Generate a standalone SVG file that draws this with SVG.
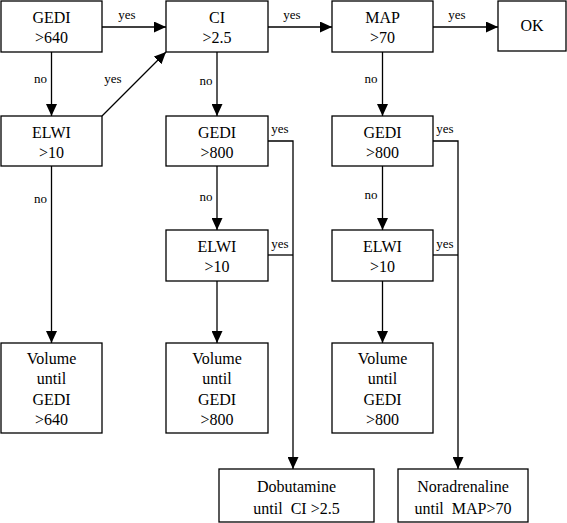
<svg xmlns="http://www.w3.org/2000/svg" width="567" height="523" viewBox="0 0 567 523">
<defs>
<style>
.box{fill:#fff;stroke:#000;stroke-width:1.3}
.t{font-family:"Liberation Serif",serif;font-size:16px;text-anchor:middle;fill:#000}
.l{font-family:"Liberation Serif",serif;font-size:13px;text-anchor:middle;fill:#000}
.c{fill:none;stroke:#000;stroke-width:1.3}
</style>
<marker id="ah" markerWidth="12" markerHeight="11" refX="12" refY="5.5" orient="auto" markerUnits="userSpaceOnUse" viewBox="0 0 12 11">
<path d="M0,0 L12,5.5 L0,11 Z" fill="#000"/>
</marker>
</defs>
<rect width="567" height="523" fill="#fff"/>
<g id="connectors">
<line class="c" x1="102" y1="27" x2="166" y2="27" marker-end="url(#ah)"/>
<line class="c" x1="268" y1="27" x2="332" y2="27" marker-end="url(#ah)"/>
<line class="c" x1="433" y1="27" x2="498" y2="27" marker-end="url(#ah)"/>
<line class="c" x1="51.5" y1="52" x2="51.5" y2="116" marker-end="url(#ah)"/>
<line class="c" x1="102" y1="116" x2="166" y2="52" marker-end="url(#ah)"/>
<line class="c" x1="217" y1="52" x2="217" y2="116" marker-end="url(#ah)"/>
<line class="c" x1="382.5" y1="52" x2="382.5" y2="116" marker-end="url(#ah)"/>
<line class="c" x1="217" y1="166" x2="217" y2="230" marker-end="url(#ah)"/>
<line class="c" x1="382.5" y1="166" x2="382.5" y2="230" marker-end="url(#ah)"/>
<line class="c" x1="51.5" y1="166" x2="51.5" y2="343" marker-end="url(#ah)"/>
<line class="c" x1="217" y1="281" x2="217" y2="343" marker-end="url(#ah)"/>
<line class="c" x1="382.5" y1="281" x2="382.5" y2="343" marker-end="url(#ah)"/>
<polyline class="c" points="268,141 293,141 293,469" marker-end="url(#ah)"/>
<polyline class="c" points="268,255 293,255"/>
<polyline class="c" points="433,141 458,141 458,469" marker-end="url(#ah)"/>
<polyline class="c" points="433,255 458,255"/>
<text class="l" x="127" y="19">yes</text>
<text class="l" x="292" y="19">yes</text>
<text class="l" x="457" y="19">yes</text>
<text class="l" x="40.5" y="83">no</text>
<text class="l" x="113" y="83">yes</text>
<text class="l" x="206" y="85">no</text>
<text class="l" x="371" y="83">no</text>
<text class="l" x="206" y="201">no</text>
<text class="l" x="371" y="199">no</text>
<text class="l" x="40.5" y="203">no</text>
<text class="l" x="280" y="133">yes</text>
<text class="l" x="445" y="133">yes</text>
<text class="l" x="280" y="248">yes</text>
<text class="l" x="445" y="248">yes</text>
</g>
<g id="n-gedi640"><rect class="box" x="1" y="1" width="101" height="51"/><text class="t" x="51.5" y="23">GEDI</text><text class="t" x="51.5" y="43">&gt;640</text></g>
<g id="n-ci"><rect class="box" x="166" y="1" width="102" height="51"/><text class="t" x="217" y="23">CI</text><text class="t" x="217" y="43">&gt;2.5</text></g>
<g id="n-map"><rect class="box" x="332" y="1" width="101" height="51"/><text class="t" x="382.5" y="23">MAP</text><text class="t" x="382.5" y="43">&gt;70</text></g>
<g id="n-ok"><rect class="box" x="498" y="1" width="68" height="50"/><text class="t" x="532" y="31">OK</text></g>
<g id="n-elwi1"><rect class="box" x="1" y="116" width="101" height="50"/><text class="t" x="51.5" y="138">ELWI</text><text class="t" x="51.5" y="158">&gt;10</text></g>
<g id="n-gedi800a"><rect class="box" x="166" y="116" width="102" height="50"/><text class="t" x="217" y="138">GEDI</text><text class="t" x="217" y="158">&gt;800</text></g>
<g id="n-gedi800b"><rect class="box" x="332" y="116" width="101" height="50"/><text class="t" x="382.5" y="138">GEDI</text><text class="t" x="382.5" y="158">&gt;800</text></g>
<g id="n-elwi2"><rect class="box" x="166" y="230" width="102" height="51"/><text class="t" x="217" y="252">ELWI</text><text class="t" x="217" y="272">&gt;10</text></g>
<g id="n-elwi3"><rect class="box" x="332" y="230" width="101" height="51"/><text class="t" x="382.5" y="252">ELWI</text><text class="t" x="382.5" y="272">&gt;10</text></g>
<g id="n-vol1"><rect class="box" x="1" y="343" width="101" height="90"/><text class="t" x="51.5" y="364">Volume</text><text class="t" x="51.5" y="384">until</text><text class="t" x="51.5" y="405">GEDI</text><text class="t" x="51.5" y="425">&gt;640</text></g>
<g id="n-vol2"><rect class="box" x="166" y="343" width="102" height="90"/><text class="t" x="217" y="364">Volume</text><text class="t" x="217" y="384">until</text><text class="t" x="217" y="405">GEDI</text><text class="t" x="217" y="425">&gt;800</text></g>
<g id="n-vol3"><rect class="box" x="332" y="343" width="101" height="90"/><text class="t" x="382.5" y="364">Volume</text><text class="t" x="382.5" y="384">until</text><text class="t" x="382.5" y="405">GEDI</text><text class="t" x="382.5" y="425">&gt;800</text></g>
<g id="n-dobu"><rect class="box" x="219" y="469" width="155" height="53"/><text class="t" x="296.5" y="492">Dobutamine</text><text class="t" x="296.5" y="514" xml:space="preserve">until  CI &gt;2.5</text></g>
<g id="n-nora"><rect class="box" x="398" y="469" width="130" height="53"/><text class="t" x="463" y="492">Noradrenaline</text><text class="t" x="463" y="514" xml:space="preserve">until  MAP&gt;70</text></g>
</svg>
